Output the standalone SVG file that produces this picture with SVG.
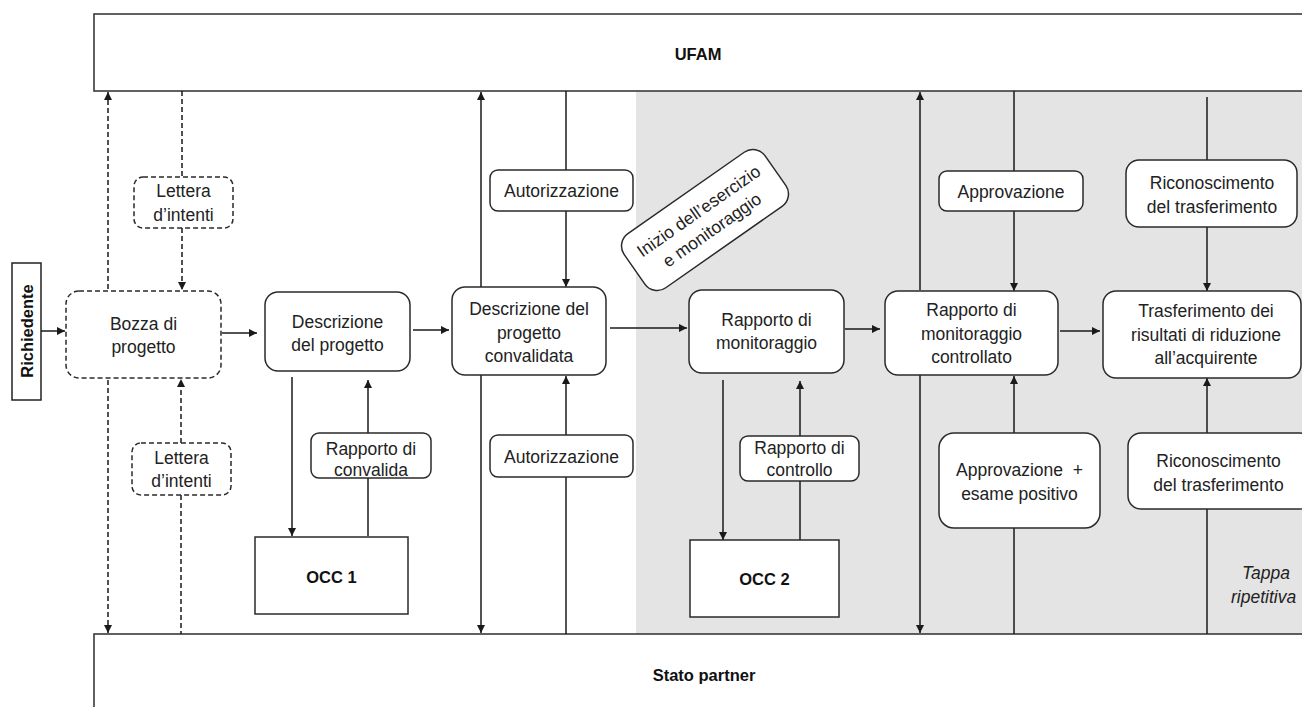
<svg xmlns="http://www.w3.org/2000/svg" width="1302" height="707" viewBox="0 0 1302 707">
<defs>
<marker id="arr" viewBox="0 0 8 8" refX="8" refY="4" markerWidth="8" markerHeight="8" markerUnits="userSpaceOnUse" orient="auto-start-reverse"><path d="M0,0 L8,4 L0,8 z" fill="#1a1a1a"/></marker>
</defs>
<style>
.bg{fill:#e4e4e4;stroke:none}
.band{fill:#fff;stroke:#3a3a3a;stroke-width:1.6}
.n{fill:#fff;stroke:#2a2a2a;stroke-width:1.5}
.d{fill:#fff;stroke:#2a2a2a;stroke-width:1.5;stroke-dasharray:5 3}
.c{fill:none;stroke:#1a1a1a;stroke-width:1.5}
.cd{fill:none;stroke:#1a1a1a;stroke-width:1.5;stroke-dasharray:5 3}
.a{marker-end:url(#arr)}
.b2{marker-start:url(#arr);marker-end:url(#arr)}
text{font-family:"Liberation Sans",Arial,sans-serif;font-size:17.5px;fill:#222;text-anchor:middle;dominant-baseline:central}
.bold{font-weight:bold;font-size:16.5px;fill:#111}
.it{font-style:italic}
</style>
<rect class="bg" x="636" y="91" width="666" height="543"/>
<g id="ufam"><rect class="band" x="94" y="14" width="1230" height="77"/><text class="bold" x="698" y="54">UFAM</text></g>
<g id="stato"><rect class="band" x="94" y="634" width="1230" height="90"/><text class="bold" x="704" y="675">Stato partner</text></g>
<g id="connectors">
<path class="c a" d="M41,331 H65"/>
<path class="cd b2" d="M108,92 V633"/>
<path class="cd" d="M182,91 V177"/>
<path class="cd a" d="M182,228 V290"/>
<path class="cd a" d="M181,443 V379"/>
<path class="cd" d="M181,495 V634"/>
<path class="c a" d="M222,333 H257"/>
<path class="c a" d="M413,330 H449"/>
<path class="c a" d="M292,377 V536"/>
<path class="c" d="M368,536 V478"/>
<path class="c a" d="M368,433 V380"/>
<path class="c a" d="M481,287 V92"/>
<path class="c" d="M566,91 V170"/>
<path class="c a" d="M566,211 V287"/>
<path class="c a" d="M481,375 V633"/>
<path class="c" d="M566,634 V477"/>
<path class="c a" d="M566,435 V376"/>
<path class="c a" d="M610,328 H687"/>
<path class="c a" d="M723,380 V540"/>
<path class="c" d="M800,540 V481"/>
<path class="c a" d="M800,436 V381"/>
<path class="c a" d="M845,329 H880"/>
<path class="c a" d="M920,290 V92"/>
<path class="c a" d="M920,375 V633"/>
<path class="c" d="M1014,91 V171"/>
<path class="c a" d="M1014,211 V291"/>
<path class="c" d="M1014,634 V528"/>
<path class="c a" d="M1014,433 V376"/>
<path class="c a" d="M1060,331 H1100"/>
<path class="c" d="M1207,97 V160"/>
<path class="c a" d="M1207,227 V291"/>
<path class="c" d="M1207,634 V509"/>
<path class="c a" d="M1207,433 V378"/>
</g>
<g id="richiedente"><rect class="n" x="12" y="263" width="29" height="137" style="stroke:#222"/><text class="bold" transform="translate(27,331) rotate(-90)">Richiedente</text></g>
<g id="lettera1"><rect class="d" x="134" y="177" width="99" height="51" rx="9"/><text x="183.5" y="191">Lettera</text><text x="183.5" y="215">d’intenti</text></g>
<g id="lettera2"><rect class="d" x="132" y="443" width="99" height="52" rx="9"/><text x="181.5" y="458">Lettera</text><text x="181.5" y="481">d’intenti</text></g>
<g id="bozza"><rect class="d" x="66" y="291" width="155" height="87" rx="13"/><text x="143.5" y="324">Bozza di</text><text x="143.5" y="347">progetto</text></g>
<g id="descrizione"><rect class="n" x="265" y="292" width="145" height="79" rx="13"/><text x="337.5" y="322">Descrizione</text><text x="337.5" y="345">del progetto</text></g>
<g id="convalida"><rect class="n" x="311" y="433" width="120" height="45" rx="8"/><text x="371" y="449">Rapporto di</text><text x="371" y="470">convalida</text></g>
<g id="occ1"><rect class="n" x="255" y="537" width="153" height="77"/><text class="bold" x="331.5" y="577">OCC 1</text></g>
<g id="convalidata"><rect class="n" x="452" y="287" width="154" height="88" rx="13"/><text x="529" y="309">Descrizione del</text><text x="529" y="333">progetto</text><text x="529" y="356">convalidata</text></g>
<g id="aut1"><rect class="n" x="490" y="170" width="143" height="41" rx="8"/><text x="561.5" y="191">Autorizzazione</text></g>
<g id="aut2"><rect class="n" x="490" y="435" width="143" height="42" rx="8"/><text x="561.5" y="457">Autorizzazione</text></g>
<g id="inizio" transform="translate(705,220) rotate(-35)"><rect class="n" x="-86" y="-33" width="172" height="66" rx="15"/><text x="0" y="-11">Inizio dell’esercizio</text><text x="0" y="12">e monitoraggio</text></g>
<g id="monitoraggio"><rect class="n" x="689" y="290" width="155" height="83" rx="13"/><text x="766.5" y="320">Rapporto di</text><text x="766.5" y="343">monitoraggio</text></g>
<g id="controllo"><rect class="n" x="740" y="436" width="119" height="45" rx="8"/><text x="799.5" y="448">Rapporto di</text><text x="799.5" y="470">controllo</text></g>
<g id="occ2"><rect class="n" x="690" y="540" width="149" height="77"/><text class="bold" x="764.5" y="579">OCC 2</text></g>
<g id="controllato"><rect class="n" x="885" y="291" width="173" height="84" rx="13"/><text x="971.5" y="310">Rapporto di</text><text x="971.5" y="334">monitoraggio</text><text x="971.5" y="357">controllato</text></g>
<g id="approvazione1"><rect class="n" x="939" y="171" width="144" height="40" rx="8"/><text x="1011" y="192">Approvazione</text></g>
<g id="approvazione2"><rect class="n" x="939" y="433" width="161" height="95" rx="15"/><text x="1019.5" y="470" xml:space="preserve">Approvazione  +</text><text x="1019.5" y="494">esame positivo</text></g>
<g id="trasferimento"><rect class="n" x="1103" y="291" width="198" height="87" rx="13"/><text x="1206" y="311">Trasferimento dei</text><text x="1206" y="335">risultati di riduzione</text><text x="1206" y="358">all’acquirente</text></g>
<g id="riconoscimento1"><rect class="n" x="1126" y="160" width="171" height="67" rx="13"/><text x="1212" y="183">Riconoscimento</text><text x="1212" y="207">del trasferimento</text></g>
<g id="riconoscimento2"><rect class="n" x="1128" y="433" width="185" height="76" rx="13"/><text x="1218.5" y="461">Riconoscimento</text><text x="1218.5" y="485">del trasferimento</text></g>
<g id="tappa"><text class="it" x="1266" y="573">Tappa</text><text class="it" x="1231" y="597" style="text-anchor:start">ripetitiva</text></g>
</svg>
